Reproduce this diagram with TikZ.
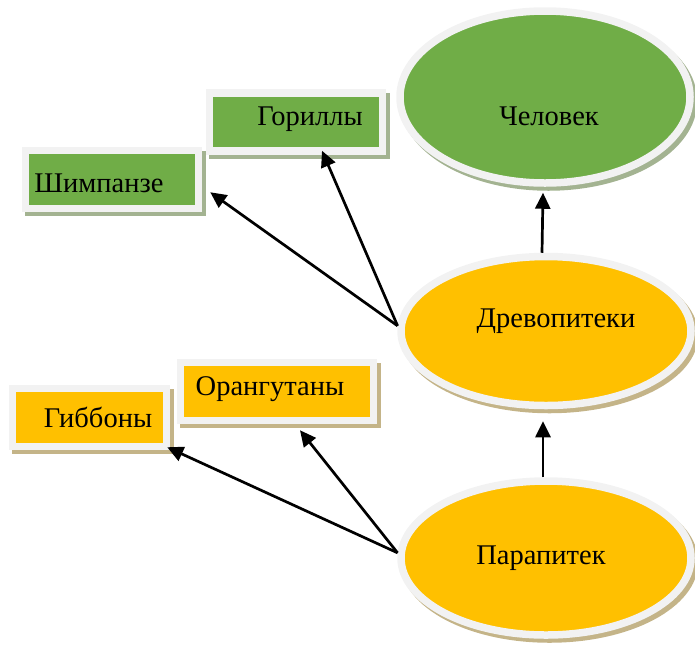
\documentclass[tikz,border=0pt]{standalone}
\usepackage{fontspec}
\setmainfont{Liberation Serif}
\usetikzlibrary{shapes.geometric,shadows,arrows.meta}

\definecolor{leafgreen}{HTML}{70AD47}
\definecolor{sunorange}{HTML}{FFC000}
\definecolor{framegray}{HTML}{F2F2F2}
\definecolor{shadegreen}{HTML}{A3B391}
\definecolor{shadetan}{HTML}{C4B488}

\begin{document}
\begin{tikzpicture}[x=1pt, y=-1pt,
    frame/.style={draw=framegray, line width=7.5pt, inner sep=0pt},
    greenshade/.style={general shadow={fill=shadegreen, draw=shadegreen, line width=7.5pt, shadow xshift=3.5pt, shadow yshift=-4pt}},
    tanshade/.style={general shadow={fill=shadetan, draw=shadetan, line width=7.5pt, shadow xshift=3.5pt, shadow yshift=-4pt}},
    greenbox/.style={frame, greenshade, fill=leafgreen, rectangle, minimum height=58pt},
    orangebox/.style={frame, tanshade, fill=sunorange, rectangle, minimum height=58pt},
    greenoval/.style={frame, greenshade, fill=leafgreen, ellipse, minimum width=290pt},
    orangeoval/.style={frame, tanshade, fill=sunorange, ellipse, minimum width=290pt},
    caption/.style={anchor=base, inner sep=0pt, font=\fontsize{28.5}{32}\selectfont},
    link/.style={-{Triangle[length=16pt,width=15pt]}, line width=2.7pt}]

    % Fix the page size
    \useasboundingbox (0,0) rectangle (695,646);

    % Ovals of the main line
    \node[greenoval, minimum height=172pt] (human) at (545,97) {};
    \node[orangeoval, minimum height=149pt] (drevo) at (546,331) {};
    \node[orangeoval, minimum height=154pt] (para) at (546,558) {};

    % Side branches
    \node[greenbox, minimum width=173pt] (gorilla) at (296,122) {};
    \node[greenbox, minimum width=173pt] (chimp) at (112,179.5) {};
    \node[orangebox, minimum width=193pt] (orang) at (277,391.5) {};
    \node[orangebox, minimum width=154pt] (gibbon) at (89.5,417.5) {};

    % Texts
    \node[caption] (humantext) at (549,125) {Человек};
    \node[caption] (drevotext) at (556,327) {Древопитеки};
    \node[caption] (paratext) at (541,564) {Парапитек};
    \node[caption] (gorillatext) at (310,125) {Гориллы};
    \node[caption] (chimptext) at (99,192) {Шимпанзе};
    \node[caption] (orangtext) at (270,395) {Орангутаны};
    \node[caption] (gibbontext) at (98,427) {Гиббоны};

    % Arrows
    \draw[link] ([xshift=-4pt]drevo.north) -- ([xshift=-2pt, yshift=-6pt]human.south);
    \draw[link] ([xshift=-3pt]para.north) -- ([xshift=-3pt, yshift=-12pt]drevo.south);
    \draw[link] (drevo.178) -- ([xshift=8pt, yshift=20pt]chimp.south east);
    \draw[link] (drevo.178) -- ([xshift=26pt, yshift=4pt]gorilla.south);
    \draw[link] (para.178) -- ([xshift=-3pt, yshift=3pt]gibbon.south east);
    \draw[link] (para.178) -- ([xshift=23pt, yshift=-6pt]orang.south);
\end{tikzpicture}
\end{document}
